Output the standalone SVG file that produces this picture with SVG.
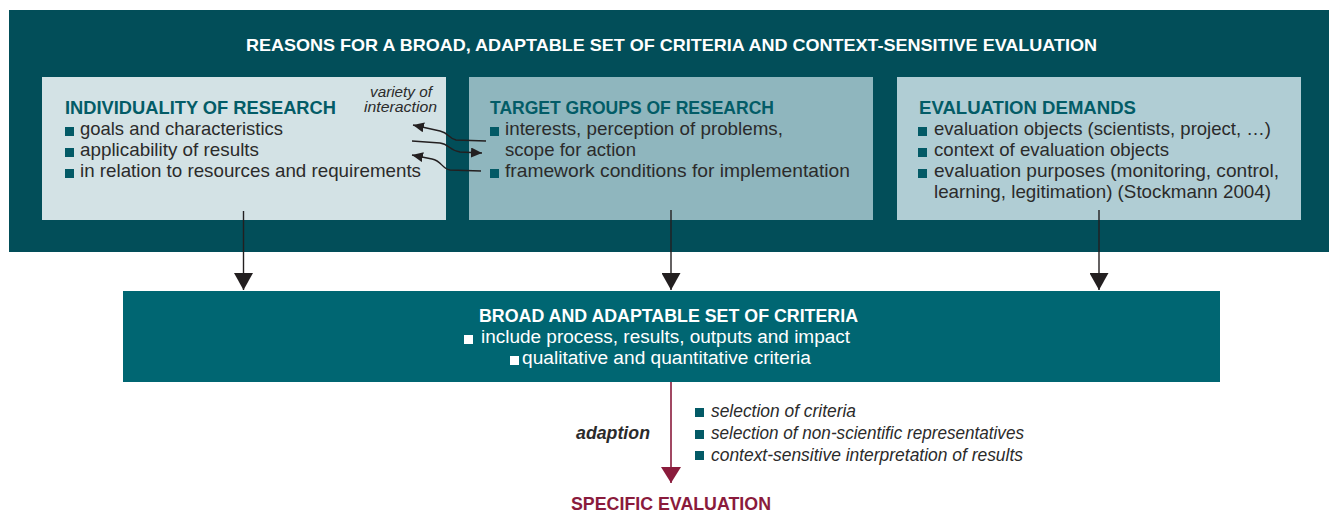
<svg xmlns="http://www.w3.org/2000/svg" width="1329" height="514" viewBox="0 0 1329 514">
<style>
text{font-family:"Liberation Sans",Arial,sans-serif}
.title{font-size:17px;font-weight:bold;fill:#ffffff}
.head{font-size:19px;font-weight:bold;fill:#035c67}
.body{font-size:19px;fill:#2b2b2b}
.note{font-size:15px;font-style:italic;fill:#2b2b2b}
.whead{font-size:18px;font-weight:bold;fill:#ffffff}
.wbody{font-size:18px;fill:#ffffff}
.ital{font-size:18px;font-style:italic;fill:#2b2b2b}
.bul{fill:#035a66}
.wbul{fill:#ffffff}
.conn{fill:none;stroke:#231f20;stroke-width:1.4}
.red{fill:none;stroke:#8a1b3c;stroke-width:1.6}
</style>
<defs>
<marker id="ah" viewBox="0 0 17 19" refX="17" refY="9.5" markerWidth="17" markerHeight="19" markerUnits="userSpaceOnUse" orient="auto">
<path d="M0,0 L17,9.5 L0,19 z" fill="#231f20"/>
</marker>
<marker id="ahr" viewBox="0 0 16 20" refX="16" refY="10" markerWidth="16" markerHeight="20" markerUnits="userSpaceOnUse" orient="auto">
<path d="M0,0 L16,10 L0,20 z" fill="#8a1b3c"/>
</marker>
<marker id="sm" viewBox="0 0 11 10" refX="11" refY="5" markerWidth="11" markerHeight="10" markerUnits="userSpaceOnUse" orient="auto">
<path d="M0,0 L11,5 L0,10 z" fill="#231f20"/>
</marker>
</defs>
<rect width="1329" height="514" fill="#ffffff"/>
<g id="reasons">
<rect x="9" y="10" width="1320" height="242" fill="#024e59"/>
<text class="title" x="246" y="51" textLength="851" lengthAdjust="spacingAndGlyphs">REASONS FOR A BROAD, ADAPTABLE SET OF CRITERIA AND CONTEXT-SENSITIVE EVALUATION</text>
</g>
<g id="individuality">
<rect x="42" y="77" width="404" height="143" fill="#d3e2e5"/>
<text class="head" x="65" y="114" textLength="271" lengthAdjust="spacingAndGlyphs">INDIVIDUALITY OF RESEARCH</text>
<text class="note" x="432" y="97" text-anchor="end" textLength="62" lengthAdjust="spacingAndGlyphs">variety of</text>
<text class="note" x="437" y="112" text-anchor="end" textLength="73" lengthAdjust="spacingAndGlyphs">interaction</text>
<rect class="bul" x="65" y="127" width="9" height="9"/>
<rect class="bul" x="65" y="148" width="9" height="9"/>
<rect class="bul" x="65" y="169" width="9" height="9"/>
<text class="body" x="80" y="135" textLength="203" lengthAdjust="spacingAndGlyphs">goals and characteristics</text>
<text class="body" x="80" y="156" textLength="179" lengthAdjust="spacingAndGlyphs">applicability of results</text>
<text class="body" x="80" y="177" textLength="341" lengthAdjust="spacingAndGlyphs">in relation to resources and requirements</text>
</g>
<g id="target-groups">
<rect x="469" y="77" width="404" height="143" fill="#8fb6be"/>
<text class="head" x="490" y="114" textLength="284" lengthAdjust="spacingAndGlyphs">TARGET GROUPS OF RESEARCH</text>
<rect class="bul" x="490" y="127" width="9" height="9"/>
<rect class="bul" x="490" y="169" width="9" height="9"/>
<text class="body" x="505" y="135" textLength="278" lengthAdjust="spacingAndGlyphs">interests, perception of problems,</text>
<text class="body" x="505" y="156" textLength="131" lengthAdjust="spacingAndGlyphs">scope for action</text>
<text class="body" x="505" y="177" textLength="345" lengthAdjust="spacingAndGlyphs">framework conditions for implementation</text>
</g>
<g id="evaluation-demands">
<rect x="897" y="77" width="404" height="143" fill="#b0cdd4"/>
<text class="head" x="919" y="114" textLength="217" lengthAdjust="spacingAndGlyphs">EVALUATION DEMANDS</text>
<rect class="bul" x="918" y="127" width="9" height="9"/>
<rect class="bul" x="918" y="148" width="9" height="9"/>
<rect class="bul" x="918" y="169" width="9" height="9"/>
<text class="body" x="934" y="135" textLength="337" lengthAdjust="spacingAndGlyphs">evaluation objects (scientists, project, …)</text>
<text class="body" x="934" y="156" textLength="235" lengthAdjust="spacingAndGlyphs">context of evaluation objects</text>
<text class="body" x="934" y="177" textLength="345" lengthAdjust="spacingAndGlyphs">evaluation purposes (monitoring, control,</text>
<text class="body" x="934" y="198" textLength="337" lengthAdjust="spacingAndGlyphs">learning, legitimation) (Stockmann 2004)</text>
</g>
<g id="criteria">
<rect x="123" y="291" width="1097" height="91" fill="#006672"/>
<text class="whead" x="479" y="322" textLength="379" lengthAdjust="spacingAndGlyphs">BROAD AND ADAPTABLE SET OF CRITERIA</text>
<rect class="wbul" x="464" y="335" width="9" height="9"/>
<rect class="wbul" x="510" y="356" width="9" height="9"/>
<text class="wbody" x="481" y="343" textLength="369" lengthAdjust="spacingAndGlyphs">include process, results, outputs and impact</text>
<text class="wbody" x="522" y="364" textLength="289" lengthAdjust="spacingAndGlyphs">qualitative and quantitative criteria</text>
</g>
<g id="adaption">
<text class="ital" x="576" y="439" font-weight="bold" textLength="74" lengthAdjust="spacingAndGlyphs">adaption</text>
<rect class="bul" x="695" y="408" width="9" height="9"/>
<rect class="bul" x="695" y="430" width="9" height="9"/>
<rect class="bul" x="695" y="451" width="9" height="9"/>
<text class="ital" x="711" y="417" textLength="145" lengthAdjust="spacingAndGlyphs">selection of criteria</text>
<text class="ital" x="711" y="439" textLength="313" lengthAdjust="spacingAndGlyphs">selection of non-scientific representatives</text>
<text class="ital" x="711" y="461" textLength="312" lengthAdjust="spacingAndGlyphs">context-sensitive interpretation of results</text>
</g>
<g id="specific-evaluation">
<text x="571" y="510" font-size="19" font-weight="bold" fill="#8a1b3c" textLength="200" lengthAdjust="spacingAndGlyphs">SPECIFIC EVALUATION</text>
</g>
<g id="connectors">
<path class="conn" d="M243.5,211 V290" marker-end="url(#ah)"/>
<path class="conn" d="M671,210 V290" marker-end="url(#ah)"/>
<path class="conn" d="M1099,210 V290" marker-end="url(#ah)"/>
<path class="red" d="M671,382 V483" marker-end="url(#ahr)"/>
<path class="conn" stroke-width="1.2" d="M486,141 L456,140 C449,139 449,133 440,131 L413,125" marker-end="url(#sm)"/>
<path class="conn" stroke-width="1.2" d="M412,141 L440,143 C449,144 450,151 460,152 L482,153" marker-end="url(#sm)"/>
<path class="conn" stroke-width="1.2" d="M481,171 L450,170 C442,169 442,161 432,159 L412,155" marker-end="url(#sm)"/>
</g>
</svg>
